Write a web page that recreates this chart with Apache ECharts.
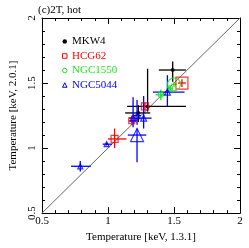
<!DOCTYPE html>
<html><head><meta charset="utf-8">
<script src="https://cdn.jsdelivr.net/npm/echarts@6/dist/echarts.min.js"></script>
<style>html,body{margin:0;padding:0;background:#fff}#c{width:249px;height:248px}</style>
</head><body><div id="c"></div>
<script>
const xTicks = [0.5, 1, 1.5, 2];
const yTicks = [0.5, 1, 1.5, 2];
const seriesNames = ['MKW4', 'HCG62', 'NGC1550', 'NGC5044'];

const mkw4X   = [1.49, 1.30, 1.23];
const mkw4Y   = [1.60, 1.32, 1.27];
const mkw4XLo = [1.385, 1.145, 1.13];
const mkw4XHi = [1.59, 1.59, 1.32];
const mkw4YLo = [1.51, 1.28, 1.20];
const mkw4YHi = [1.665, 1.61, 1.33];

const hcgX   = [1.56, 1.28, 1.18, 1.05];
const hcgY   = [1.50, 1.32, 1.21, 1.07];
const hcgXLo = [1.53, 1.26, 1.16, 1.00];
const hcgXHi = [1.59, 1.31, 1.21, 1.14];
const hcgYLo = [1.47, 1.29, 1.18, 1.00];
const hcgYHi = [1.53, 1.35, 1.25, 1.15];

const n1550X   = [1.50, 1.40, 1.47];
const n1550Y   = [1.49, 1.41, 1.46];
const n1550XLo = [1.48, 1.36, 1.45];
const n1550XHi = [1.52, 1.44, 1.49];
const n1550YLo = [1.47, 1.37, 1.44];
const n1550YHi = [1.51, 1.45, 1.48];

const n5044X   = [1.45, 1.27, 1.19, 1.22, 1.22, 0.99, 0.79];
const n5044Y   = [1.43, 1.23, 1.23, 1.25, 1.10, 1.03, 0.86];
const n5044XLo = [1.34, 1.23, 1.16, 1.19, 1.15, 0.96, 0.72];
const n5044XHi = [1.58, 1.33, 1.22, 1.25, 1.29, 1.03, 0.87];
const n5044YLo = [1.32, 1.15, 1.16, 1.18, 0.89, 1.02, 0.82];
const n5044YHi = [1.56, 1.40, 1.39, 1.37, 1.15, 1.04, 0.90];

// marker sizes (style, kept separate from data)
const mkw4Size  = [4, 4, 4];
const hcgSize   = [12, 7, 6, 7];
const n1550Size = [13, 5, 5];
const n5044Size = [6, 6, 6, 6, 13, 5, 5];

const colors = ['#000000', '#ff0000', '#11ee11', '#0000ff'];
const FONT = 'Liberation Serif';

const groups = [
  [mkw4X, mkw4Y, mkw4XLo, mkw4XHi, mkw4YLo, mkw4YHi, mkw4Size],
  [hcgX, hcgY, hcgXLo, hcgXHi, hcgYLo, hcgYHi, hcgSize],
  [n1550X, n1550Y, n1550XLo, n1550XHi, n1550YLo, n1550YHi, n1550Size],
  [n5044X, n5044Y, n5044XLo, n5044XHi, n5044YLo, n5044YHi, n5044Size]
];

const series = [];
series.push({
  type: 'line', data: [[0.5, 0.5], [2, 2]], symbol: 'none', silent: true,
  lineStyle: { color: '#666', width: 1 }, z: 1
});
groups.forEach((g, i) => {
  const [X, Y, XL, XH, YL, YH, S] = g;
  series.push({
    type: 'custom', name: seriesNames[i], z: 3,
    renderItem: function (params, api) {
      const x = api.value(0), y = api.value(1);
      const a = api.coord([api.value(2), y]), b = api.coord([api.value(3), y]);
      const c = api.coord([x, api.value(4)]), d = api.coord([x, api.value(5)]);
      const st = { stroke: colors[i], lineWidth: 1.3 };
      return { type: 'group', children: [
        { type: 'line', shape: { x1: a[0], y1: a[1], x2: b[0], y2: b[1] }, style: st },
        { type: 'line', shape: { x1: c[0], y1: c[1], x2: d[0], y2: d[1] }, style: st }
      ]};
    },
    data: X.map((x, k) => [x, Y[k], XL[k], XH[k], YL[k], YH[k]])
  });
  const filled = i === 0;
  series.push({
    type: 'scatter', name: seriesNames[i], z: 4,
    symbol: ['circle', 'rect', 'circle', 'triangle'][i],
    symbolSize: function (v, p) { return S[p.dataIndex]; },
    itemStyle: filled ? { color: colors[i] } : { color: 'rgba(0,0,0,0)', borderColor: colors[i], borderWidth: 1.2 },
    data: X.map((x, k) => [x, Y[k]])
  });
});

const axisCommon = {
  min: 0.5, max: 2, interval: 0.5,
  axisLine: { show: true, lineStyle: { color: '#000', width: 1 } },
  axisTick: { show: true, inside: true, length: 6, lineStyle: { color: '#000' } },
  minorTick: { show: true, splitNumber: 5, length: 3, lineStyle: { color: '#000' } },
  splitLine: { show: false }
};

const chart = echarts.init(document.getElementById('c'), null, { renderer: 'canvas' });
chart.setOption({
  animation: false,
  backgroundColor: '#fff',
  title: { text: '(c)2T, hot', left: 33, top: 0, textStyle: { fontFamily: FONT, fontSize: 11, fontWeight: 'normal', color: '#000' } },
  grid: { left: 35, right: 9, top: 18, bottom: 28 },
  legend: {
    orient: 'vertical', left: 57, top: 31, itemGap: 3.5, itemWidth: 4.5, itemHeight: 4.5,
    selectedMode: false,
    data: seriesNames.map((n, i) => ({
      name: n,
      icon: ['circle', 'rect', 'circle', 'triangle'][i],
      itemStyle: i === 0 ? { color: '#000', borderWidth: 0 } : { color: 'rgba(0,0,0,0)', borderColor: colors[i], borderWidth: 1 },
      textStyle: { color: colors[i] }
    })),
    textStyle: { fontFamily: FONT, fontSize: 11, padding: [0, 0, 0, 0] }
  },
  xAxis: [
    Object.assign({}, axisCommon, {
      type: 'value', position: 'bottom',
      name: 'Temperature [keV, 1.3.1]', nameLocation: 'middle', nameGap: 16,
      nameTextStyle: { fontFamily: FONT, fontSize: 11, color: '#000' },
      axisLabel: { fontFamily: FONT, fontSize: 11, color: '#000', margin: 3,
        formatter: v => xTicks.includes(v) ? String(v) : '' }
    }),
    Object.assign({}, axisCommon, { type: 'value', position: 'top', axisLabel: { show: false } })
  ],
  yAxis: [
    Object.assign({}, axisCommon, {
      type: 'value', position: 'left',
      name: 'Temperature [keV, 2.0.1]', nameLocation: 'middle', nameGap: 23,
      nameTextStyle: { fontFamily: FONT, fontSize: 11, color: '#000' },
      axisLabel: { fontFamily: FONT, fontSize: 11, color: '#000', rotate: 90, margin: 4,
        formatter: v => yTicks.includes(v) ? String(v) : '' }
    }),
    Object.assign({}, axisCommon, { type: 'value', position: 'right', axisLabel: { show: false } })
  ],
  series: series
});
</script></body></html>
